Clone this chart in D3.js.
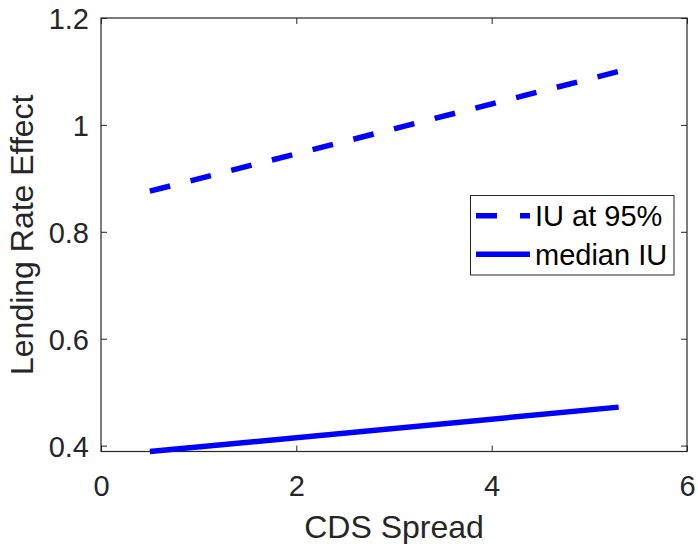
<!DOCTYPE html>
<html>
<head>
<meta charset="utf-8">
<script src="https://cdn.jsdelivr.net/npm/d3@7"></script>
<style>
  html, body { margin: 0; padding: 0; background: #fff; }
  svg { display: block; font-family: "Liberation Sans", Arial, Helvetica, sans-serif; }
</style>
</head>
<body>
<svg id="chart" width="698" height="544"></svg>
<script>
// ---- data ----
const cdsSpread = [0.5, 5.3];
const iuAt95 = [0.876, 1.1];
const medianIU = [0.389, 0.472];
const xTicks = [0, 2, 4, 6];
const yTicks = [0.4, 0.6, 0.8, 1.0, 1.2];
const seriesNames = ["IU at 95%", "median IU"];
const xLabel = "CDS Spread";
const yLabel = "Lending Rate Effect";

// ---- layout ----
const pL = 101, pR = 687, pT = 18, pB = 451.5;
const axisColor = "#262626";
const blue = "#0000ff";

const svg = d3.select("#chart");
const x = d3.scaleLinear().domain([0, 6]).range([pL, pR]);
const y = d3.scaleLinear().domain([0.389, 1.2]).range([pB, pT]);

// axes box
svg.append("rect")
  .attr("x", pL).attr("y", pT)
  .attr("width", pR - pL).attr("height", pB - pT)
  .attr("fill", "none").attr("stroke", axisColor).attr("stroke-width", 1.2);

const tickLen = 6;
const fmtY = d => (d === 1 ? "1" : d3.format(".1f")(d));

// bottom axis
const xAxis = d3.axisBottom(x).tickValues(xTicks).tickSizeInner(-tickLen).tickSizeOuter(0).tickFormat(d3.format("d"));
const gx = svg.append("g").attr("transform", `translate(0,${pB})`).call(xAxis);
gx.select(".domain").remove();
gx.selectAll("line").attr("stroke", axisColor);
gx.selectAll("text").attr("fill", axisColor).style("font-size", "29px")
  .attr("dy", null).attr("y", 44.5);

// top axis (mirrored ticks)
const gxt = svg.append("g").attr("transform", `translate(0,${pT})`)
  .call(d3.axisTop(x).tickValues(xTicks).tickSizeInner(-tickLen).tickSizeOuter(0).tickFormat(""));
gxt.select(".domain").remove();
gxt.selectAll("line").attr("stroke", axisColor);

// left axis
const yAxis = d3.axisLeft(y).tickValues(yTicks).tickSizeInner(-tickLen).tickSizeOuter(0).tickFormat(fmtY);
const gy = svg.append("g").attr("transform", `translate(${pL},0)`).call(yAxis);
gy.select(".domain").remove();
gy.selectAll("line").attr("stroke", axisColor);
gy.selectAll("text").attr("fill", axisColor).style("font-size", "29px")
  .attr("x", -12).attr("dy", "0.36em");

// right axis (mirrored ticks)
const gyr = svg.append("g").attr("transform", `translate(${pR},0)`)
  .call(d3.axisRight(y).tickValues(yTicks).tickSizeInner(-tickLen).tickSizeOuter(0).tickFormat(""));
gyr.select(".domain").remove();
gyr.selectAll("line").attr("stroke", axisColor);

// axis labels
svg.append("text")
  .attr("x", (pL + pR) / 2).attr("y", 538)
  .attr("text-anchor", "middle").attr("fill", axisColor)
  .style("font-size", "32px").text(xLabel);

svg.append("text")
  .attr("transform", `translate(33,${(pT + pB) / 2}) rotate(-90)`)
  .attr("text-anchor", "middle").attr("fill", axisColor)
  .style("font-size", "32px").text(yLabel);

// lines
const line = d3.line().x(d => x(d[0])).y(d => y(d[1]));
const dashedData = cdsSpread.map((c, i) => [c, iuAt95[i]]);
const solidData = cdsSpread.map((c, i) => [c, medianIU[i]]);

svg.append("path").datum(dashedData)
  .attr("d", line).attr("fill", "none")
  .attr("stroke", blue).attr("stroke-width", 5.5)
  .attr("stroke-dasharray", "21,21");

svg.append("path").datum(solidData)
  .attr("d", line).attr("fill", "none")
  .attr("stroke", blue).attr("stroke-width", 5.5);

// legend
const lg = svg.append("g");
lg.append("rect")
  .attr("x", 470.5).attr("y", 195.5).attr("width", 203.5).attr("height", 79.5)
  .attr("fill", "#fff").attr("stroke", axisColor).attr("stroke-width", 1);
const rows = [215.7, 254.3];
const dashes = ["21,23", null];
seriesNames.forEach((name, i) => {
  const ln = lg.append("line")
    .attr("x1", 476).attr("x2", 530).attr("y1", rows[i]).attr("y2", rows[i])
    .attr("stroke", blue).attr("stroke-width", 5.5);
  if (dashes[i]) ln.attr("stroke-dasharray", dashes[i]);
  lg.append("text")
    .attr("x", 535).attr("y", rows[i]).attr("dy", "0.36em")
    .attr("fill", "#000").style("font-size", "29px").text(name);
});
</script>
</body>
</html>
